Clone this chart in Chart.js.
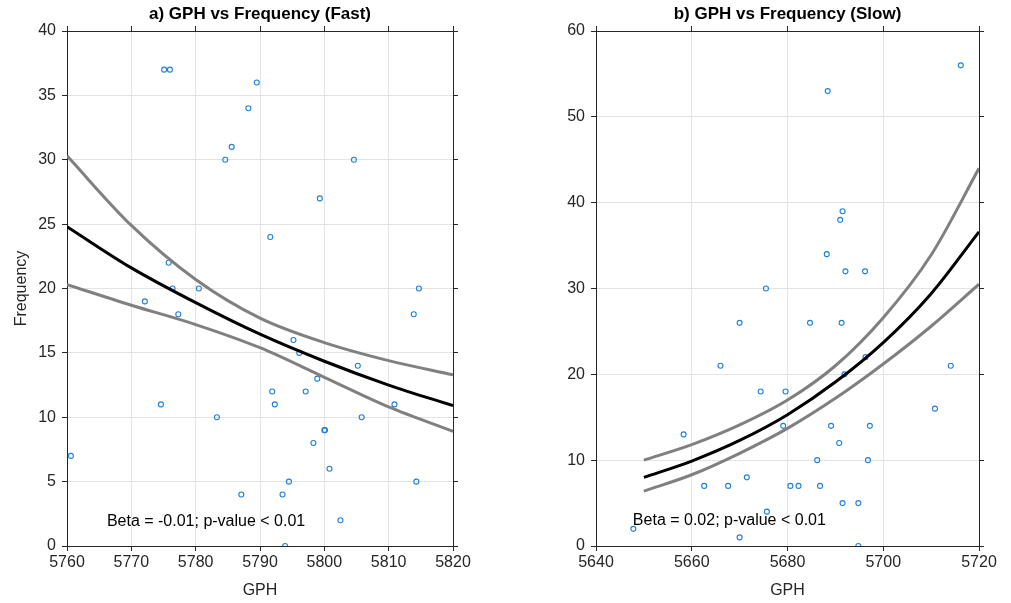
<!DOCTYPE html>
<html lang="en">
<head>
  <meta charset="UTF-8" />
  <title>GPH vs Frequency</title>
  <script src="https://cdn.jsdelivr.net/npm/chart.js"></script>
  <style>
    * { margin: 0; padding: 0; box-sizing: border-box; }
    body { width: 1011px; height: 603px; background: white; overflow: hidden; }
    .panel { position: absolute; top: 0; height: 603px; }
    #left { left: 0; width: 505px; }
    #right { left: 505px; width: 506px; }
  </style>
</head>
<body>

  <div class="panel" id="left"><canvas id="fastChart"></canvas></div>
  <div class="panel" id="right"><canvas id="slowChart"></canvas></div>

  <script>
    // a) Fast - observations
    const fastGph = [5760.6, 5772.1, 5774.6, 5775.1, 5775.8, 5776.0, 5776.4, 5777.3, 5780.5, 5783.3,
                     5784.6, 5785.6, 5787.1, 5788.2, 5789.5, 5791.6, 5791.9, 5792.3, 5793.5, 5793.9,
                     5794.5, 5795.2, 5796.1, 5797.1, 5798.3, 5798.9, 5799.3, 5800.0, 5800.1, 5800.8,
                     5802.5, 5804.6, 5805.2, 5805.8, 5810.9, 5813.9, 5814.3, 5814.7];
    const fastFreq = [7, 19, 11, 37, 22, 37, 20, 18, 20, 10,
                      30, 31, 4, 34, 36, 24, 12, 11, 4, 0,
                      5, 16, 15, 12, 8, 13, 27, 9, 9, 6,
                      2, 30, 14, 10, 11, 18, 5, 20];

    // a) Fast - fitted curve and bounds
    const fastFitX     = [5760, 5770, 5780, 5790, 5800, 5810, 5820];
    const fastFitMid   = [24.8, 21.6, 18.9, 16.45, 14.35, 12.5, 10.9];
    const fastFitUpper = [30.3, 24.9, 20.7, 17.7, 15.8, 14.4, 13.3];
    const fastFitLower = [20.3, 18.7, 17.2, 15.4, 13.1, 10.8, 8.9];

    // b) Slow - observations
    const slowGph = [5647.8, 5658.3, 5662.6, 5666.0, 5667.6, 5670.0, 5670.0, 5671.5, 5674.4, 5675.5,
                     5675.7, 5679.1, 5679.6, 5680.6, 5682.3, 5684.7, 5686.2, 5686.8, 5688.2, 5688.4,
                     5689.1, 5690.8, 5691.0, 5691.3, 5691.5, 5691.5, 5691.9, 5692.1, 5694.8, 5694.8,
                     5696.2, 5696.3, 5696.8, 5697.2, 5710.8, 5714.1, 5716.2];
    const slowFreq = [2, 13, 7, 21, 7, 26, 1, 8, 18, 30,
                      4, 14, 18, 7, 7, 26, 10, 7, 34, 53,
                      14, 12, 38, 26, 39, 5, 20, 32, 5, 0,
                      32, 22, 10, 14, 16, 21, 56];

    // b) Slow - fitted curve and bounds
    const slowFitX     = [5650, 5660, 5670, 5680, 5690, 5700, 5710, 5720];
    const slowFitMid   = [8.0, 9.9, 12.3, 15.3, 19.1, 23.7, 29.4, 36.6];
    const slowFitUpper = [10.0, 11.8, 14.1, 17.0, 21.0, 26.6, 33.9, 44.0];
    const slowFitLower = [6.4, 8.3, 10.8, 13.7, 17.2, 21.2, 25.6, 30.5];

    // axis limits: [min, max, step]
    const fastXAxis = [5760, 5820, 10];
    const fastYAxis = [0, 40, 5];
    const slowXAxis = [5640, 5720, 20];
    const slowYAxis = [0, 60, 10];

    const ink = '#262626';
    const gridColor = '#e3e3e3';
    const fontFamily = '"Liberation Sans", Arial, sans-serif';
    const tickFont = { family: fontFamily, size: 16 };

    const toPoints = (xs, ys) => xs.map((x, i) => ({ x: x, y: ys[i] }));

    // text in data coordinates
    const noteLabel = {
      id: 'noteLabel',
      afterDatasetsDraw(chart, args, opts) {
        const { ctx, scales } = chart;
        ctx.save();
        ctx.font = '16px ' + fontFamily;
        ctx.fillStyle = '#000';
        ctx.textBaseline = 'middle';
        ctx.textAlign = 'left';
        ctx.fillText(opts.text, scales.x.getPixelForValue(opts.x), scales.y.getPixelForValue(opts.y));
        ctx.restore();
      }
    };

    function fitLine(xs, ys, color) {
      return {
        data: toPoints(xs, ys),
        showLine: true,
        borderColor: color,
        borderWidth: 3,
        pointRadius: 0,
        cubicInterpolationMode: 'monotone'
      };
    }

    function makePanel(id, o) {
      return new Chart(document.getElementById(id), {
        type: 'scatter',
        data: {
          datasets: [
            fitLine(o.fitX, o.mid, '#000000'),
            fitLine(o.fitX, o.upper, '#808080'),
            fitLine(o.fitX, o.lower, '#808080'),
            {
              data: toPoints(o.gph, o.freq),
              pointRadius: 2.5,
              pointBorderWidth: 1.1,
              borderColor: '#1f80d6',
              backgroundColor: 'rgba(0,0,0,0)'
            }
          ]
        },
        options: {
          responsive: true,
          maintainAspectRatio: false,
          animation: false,
          layout: { padding: 0 },
          plugins: {
            legend: { display: false },
            tooltip: { enabled: false },
            noteLabel: o.note
          },
          scales: {
            x: {
              type: 'linear', position: 'bottom',
              min: o.xAxis[0], max: o.xAxis[1],
              ticks: { stepSize: o.xAxis[2], color: ink, font: tickFont, padding: 2, maxRotation: 0, callback: v => String(v) },
              grid: { color: gridColor, tickColor: ink, tickLength: 5 },
              border: { color: ink },
              title: { display: true, text: 'GPH', color: ink, font: tickFont, padding: { top: 0, bottom: 3 } },
              afterFit: s => { s.height = 57; }
            },
            x2: {
              type: 'linear', position: 'top',
              min: o.xAxis[0], max: o.xAxis[1],
              ticks: { stepSize: o.xAxis[2], display: false },
              grid: { drawOnChartArea: false, tickColor: ink, tickLength: 5 },
              border: { color: ink },
              title: { display: true, text: o.title, color: '#000', font: { family: fontFamily, size: 17, weight: 'bold' }, padding: { top: 4, bottom: 0 } },
              afterFit: s => { s.height = 31; }
            },
            y: {
              type: 'linear', position: 'left',
              min: o.yAxis[0], max: o.yAxis[1],
              ticks: { stepSize: o.yAxis[2], color: ink, font: tickFont, padding: 6 },
              grid: { color: gridColor, tickColor: ink, tickLength: 5 },
              border: { color: ink },
              title: { display: !!o.yTitle, text: o.yTitle || '', color: ink, font: tickFont, padding: { top: 12, bottom: 0 } },
              afterFit: s => { s.width = o.leftW; }
            },
            y2: {
              type: 'linear', position: 'right',
              min: o.yAxis[0], max: o.yAxis[1],
              ticks: { stepSize: o.yAxis[2], display: false },
              grid: { drawOnChartArea: false, tickColor: ink, tickLength: 5 },
              border: { color: ink },
              afterFit: s => { s.width = o.rightW; }
            }
          }
        },
        plugins: [noteLabel]
      });
    }

    makePanel('fastChart', {
      gph: fastGph, freq: fastFreq,
      fitX: fastFitX, mid: fastFitMid, upper: fastFitUpper, lower: fastFitLower,
      xAxis: fastXAxis, yAxis: fastYAxis,
      title: 'a) GPH vs Frequency (Fast)',
      yTitle: 'Frequency',
      leftW: 67, rightW: 52,
      note: { text: 'Beta = -0.01; p-value < 0.01', x: 5766.2, y: 1.9 }
    });

    makePanel('slowChart', {
      gph: slowGph, freq: slowFreq,
      fitX: slowFitX, mid: slowFitMid, upper: slowFitUpper, lower: slowFitLower,
      xAxis: slowXAxis, yAxis: slowYAxis,
      title: 'b) GPH vs Frequency (Slow)',
      yTitle: null,
      leftW: 91, rightW: 32,
      note: { text: 'Beta = 0.02; p-value < 0.01', x: 5647.7, y: 3.0 }
    });
  </script>

</body>
</html>
